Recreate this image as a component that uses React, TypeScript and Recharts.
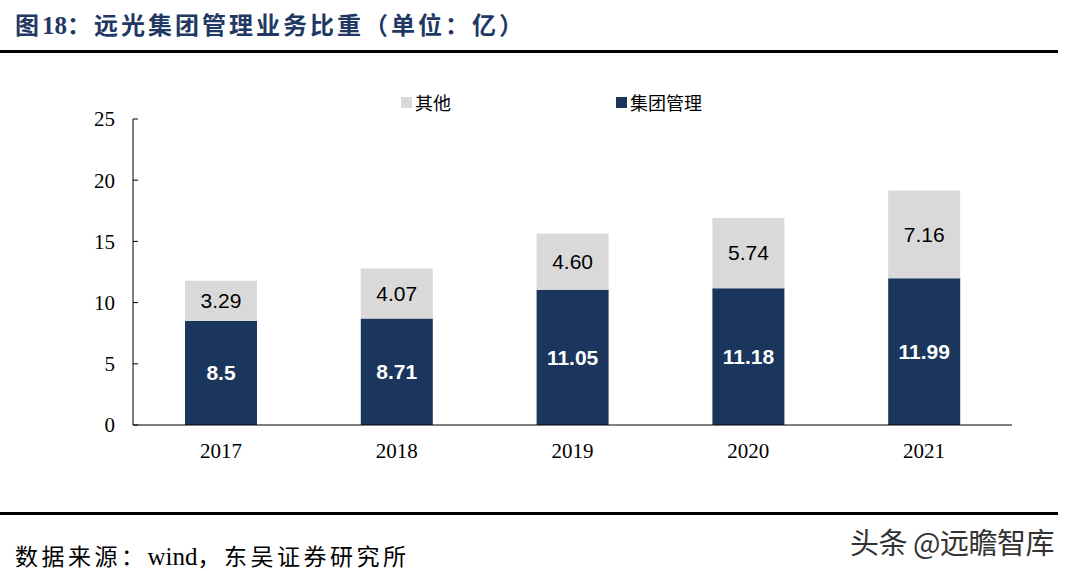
import React from "react";
import { BarChart, Bar, XAxis, YAxis, LabelList } from "recharts";

const categories = ["2017", "2018", "2019", "2020", "2021"];
const groupMgmt = [8.5, 8.71, 11.05, 11.18, 11.99];
const others = [3.29, 4.07, 4.6, 5.74, 7.16];
const yTicks = [0, 5, 10, 15, 20, 25];
const seriesNames = { others: "其他", groupMgmt: "集团管理" };

const NAVY = "#1B365D";
const GRAY = "#D9D9D9";

const data = categories.map((c, i) => ({ year: c, groupMgmt: groupMgmt[i], others: others[i] }));

export default function App() {
  return (
    <div style={{ position: "absolute", left: 0, top: 0, width: 1076, height: 571, background: "#fff", overflow: "hidden" }}>
      <div style={{ position: "absolute", left: 15, top: 6, fontFamily: "'Noto Sans CJK SC', sans-serif", fontWeight: 700, fontSize: 24, color: "#1F3864", whiteSpace: "nowrap", letterSpacing: 3 }}>
        图<span style={{ fontFamily: "'Liberation Serif', serif", fontSize: 25, letterSpacing: 0 }}>18</span>：远光集团管理业务比重（单位：亿）
      </div>
      <div style={{ position: "absolute", left: 0, top: 50, width: 1058, height: 3, background: "#000" }} />
      <div style={{ position: "absolute", left: 0, top: 512, width: 1058, height: 3, background: "#000" }} />
      <div style={{ position: "absolute", left: 15, top: 538, fontFamily: "'Noto Sans CJK SC', 'Liberation Serif', serif", fontSize: 23, color: "#000", whiteSpace: "nowrap", letterSpacing: 3.5 }}>
        数据来源：<span style={{ fontFamily: "'Liberation Serif', serif", fontSize: 25, letterSpacing: 0 }}>wind</span>，东吴证券研究所
      </div>
      <div style={{ position: "absolute", left: 850, top: 520, fontFamily: "'Noto Sans CJK SC', sans-serif", fontSize: 29, color: "#333", whiteSpace: "nowrap", letterSpacing: -0.5 }}>
        头条 @远瞻智库
      </div>
      {/* legend */}
      <div style={{ position: "absolute", left: 401, top: 89, fontFamily: "'Noto Sans CJK SC', serif", fontSize: 18, color: "#000", display: "flex", alignItems: "center", whiteSpace: "nowrap" }}>
        <span style={{ display: "inline-block", width: 11, height: 11, background: GRAY, marginRight: 3 }} />
        {seriesNames.others}
      </div>
      <div style={{ position: "absolute", left: 616, top: 89, fontFamily: "'Noto Sans CJK SC', serif", fontSize: 18, color: "#000", display: "flex", alignItems: "center", whiteSpace: "nowrap" }}>
        <span style={{ display: "inline-block", width: 11, height: 11, background: NAVY, marginRight: 3 }} />
        {seriesNames.groupMgmt}
      </div>
      <div style={{ position: "absolute", left: 0, top: 0 }}>
        <BarChart width={1076} height={571} data={data} margin={{ top: 119, right: 64, bottom: 116, left: 73 }}>
          <YAxis
            width={60}
            domain={[0, 25]}
            ticks={yTicks}
            interval={0}
            axisLine={{ stroke: "#000", strokeWidth: 1 }}
            tickLine={{ stroke: "#000" }}
            tickSize={-5}
            tickMargin={23}
            tick={{ fill: "#000", fontFamily: "'Liberation Serif', serif", fontSize: 21 }}
          />
          <XAxis
            dataKey="year"
            height={30}
            axisLine={{ stroke: "#000", strokeWidth: 1 }}
            tickLine={false}
            tickMargin={12}
            tick={{ fill: "#000", fontFamily: "'Liberation Serif', serif", fontSize: 21 }}
          />
          <Bar dataKey="groupMgmt" stackId="a" fill={NAVY} barSize={72} isAnimationActive={false}>
            <LabelList dataKey="groupMgmt" position="center" fill="#fff" fontFamily="'Liberation Sans', Arial, sans-serif" fontSize={21} fontWeight={700} />
          </Bar>
          <Bar dataKey="others" stackId="a" fill={GRAY} barSize={72} isAnimationActive={false}>
            <LabelList dataKey="others" position="center" fill="#000" fontFamily="'Liberation Sans', Arial, sans-serif" fontSize={21} formatter={(v: number) => v.toFixed(2)} />
          </Bar>
        </BarChart>
      </div>
    </div>
  );
}
